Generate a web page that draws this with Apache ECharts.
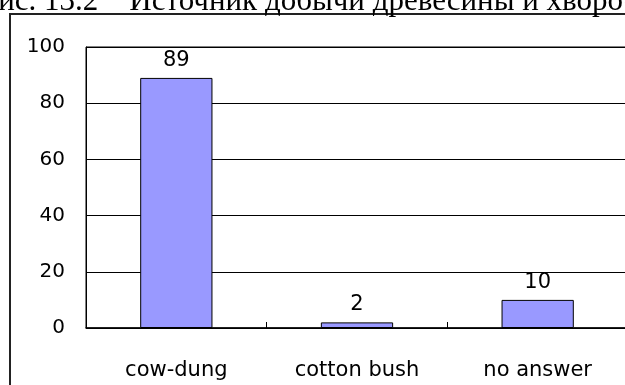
<!DOCTYPE html>
<html>
<head>
<meta charset="utf-8">
<script src="https://cdn.jsdelivr.net/npm/echarts@6/dist/echarts.min.js"></script>
<style>
  html, body { margin: 0; padding: 0; background: #fff; }
  #chart { width: 625px; height: 385px; }
</style>
</head>
<body>
<div id="chart"></div>
<script>
// Source of firewood / brushwood fuel (number of answers)
const categories = ['cow-dung', 'cotton bush', 'no answer'];
const answers = [89, 2, 10];
const yTicks = [0, 20, 40, 60, 80, 100];
const captionText = 'Рис. 13.2    Источник добычи древесины и хвороста';

const chart = echarts.init(document.getElementById('chart'), null, { renderer: 'canvas' });
const labelFont = '"DejaVu Sans", sans-serif';

chart.setOption({
  animation: false,
  backgroundColor: '#ffffff',
  grid: {
    left: 86, top: 47, right: -3, bottom: 57,
    outerBoundsMode: 'none',
    show: true, borderColor: '#000', borderWidth: 1
  },
  xAxis: {
    type: 'category',
    data: categories,
    axisLine: { lineStyle: { color: '#000', width: 1.5 } },
    axisTick: { show: true, alignWithLabel: false, length: 6, inside: true, lineStyle: { color: '#000' } },
    axisLabel: { color: '#000', fontSize: 21, fontFamily: labelFont, margin: 32 }
  },
  yAxis: {
    type: 'value',
    min: yTicks[0], max: yTicks[yTicks.length - 1], interval: 20,
    axisLine: { show: true, lineStyle: { color: '#000' } },
    axisTick: { show: false },
    splitLine: { lineStyle: { color: '#000', width: 1 } },
    axisLabel: { color: '#000', fontSize: 20, fontFamily: labelFont, margin: 21 }
  },
  series: [{
    type: 'bar',
    data: answers,
    barWidth: '40%',
    itemStyle: { color: '#9999ff', borderColor: '#000', borderWidth: 1 },
    label: {
      show: true, position: 'top', distance: 7,
      color: '#000', fontSize: 21, fontFamily: labelFont
    }
  }],
  graphic: [
    {
      type: 'rect', silent: true, z: 100,
      shape: { x: 10, y: 14, width: 700, height: 500 },
      style: { fill: null, stroke: '#222', lineWidth: 2 }
    },
    {
      // caption line above the frame, cut off by the top edge of the page
      type: 'text', silent: true, z: 100,
      x: -19, y: -14,
      style: {
        text: captionText,
        font: '31px "Liberation Serif", "DejaVu Serif", serif',
        fill: '#000', textVerticalAlign: 'top'
      }
    }
  ]
});
</script>
</body>
</html>
